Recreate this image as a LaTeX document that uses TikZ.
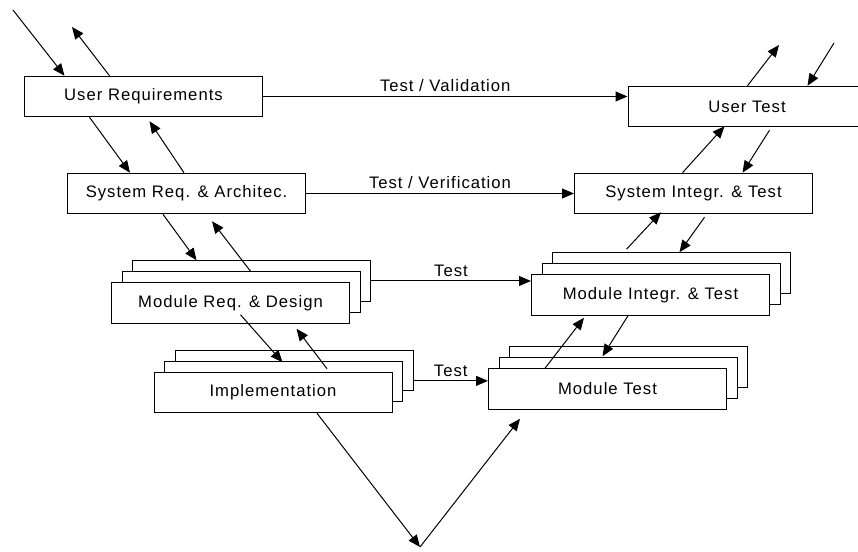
\documentclass[tikz,border=0pt]{standalone}
\usepackage{fontspec}
\setmainfont{Liberation Sans}[LetterSpace=6]
\usetikzlibrary{arrows.meta,calc}

\tikzset{every picture/.style={line width=0.75pt}}
\tikzset{
  phase/.style={draw, fill=white, minimum width=178.5pt, minimum height=30.4pt, inner sep=0pt, font=\fontsize{12.5}{15}\selectfont},
  flow/.style={-{Triangle[length=9pt,width=7.5pt]}},
  lbl/.style={font=\fontsize{12.5}{15}\selectfont, inner sep=3pt}
}

\begin{document}
\begin{tikzpicture}[x=0.75pt,y=0.75pt,yscale=-1,xscale=1]
\useasboundingbox (0,0) rectangle (858,552);
\clip (0,0) rectangle (858,552);

% left side of the V
\node[phase] (ur) at (143.5,96.5) {User Requirements};
\node[phase] (sr) at (186.5,193.5) {System Req. \& Architec.};
\node[phase] (mr3) at (251.5,281) {};
\node[phase] (mr2) at (241,292) {};
\node[phase] (mr) at (230.5,303) {Module Req. \& Design};
\node[phase] (impl3) at (294,370.5) {};
\node[phase] (impl2) at (283.5,381.5) {};
\node[phase] (impl) at (273,392.5) {Implementation};

% right side of the V
\node[phase] (ut) at (747,106.5) {User Test};
\node[phase] (sit) at (693.5,193.5) {System Integr. \& Test};
\node[phase] (mit3) at (671.5,273) {};
\node[phase] (mit2) at (661,284) {};
\node[phase] (mit) at (650.5,295) {Module Integr. \& Test};
\node[phase] (mt3) at (628.5,367) {};
\node[phase] (mt2) at (618,378) {};
\node[phase] (mt) at (607.5,389) {Module Test};

% free ends
\coordinate (inur) at (13,10);
\coordinate (outur) at (72,27);
\coordinate (inut) at (834,43);
\coordinate (outut) at (779,45);
\coordinate (vtip) at (420,547);

% test links
\draw[flow] (ur.east) -- (ur.east -| ut.west) node[midway, above, lbl] {Test / Validation};
\draw[flow] (sr.east) -- (sit.west) node[midway, above, lbl] {Test / Verification};
\draw[flow] (mr3.east) -- (mr3.east -| mit.west) node[midway, above, lbl] {Test};
\coordinate (implt) at ($(impl3.south east)!0.25!(impl3.north east)$);
\draw[flow] (implt) -- (implt -| mt.west) node[midway, above, lbl] {Test};

% going down
\draw[flow] (inur) -- ($(ur.north west)+(40.5,0)$);
\draw[flow] ($(ur.north west)+(85.5,0)$) -- (outur);
\draw[flow] ($(ur.south west)+(65.5,0)$) -- ($(sr.north west)+(63,0)$);
\draw[flow] ($(sr.north west)+(117,0)$) -- ($(ur.south west)+(125.5,4)$);
\draw[flow] ($(sr.south west)+(96,0)$) -- ($(mr3.north west)+(64.5,0)$);
\draw[flow] ($(mr2.north west)+(129,0)$) -- ($(sr.south west)+(145,7)$);
\draw[flow] ($(mr.south west)+(129.5,-9)$) -- ($(impl2.north west)+(118.5,1.5)$);
\draw[flow] ($(impl.north west)+(173.5,-3)$) -- ($(mr.south west)+(185.5,5)$);
\draw[flow] ($(impl.south west)+(163.5,0)$) -- (vtip);

% going up
\draw[flow] (vtip) -- ($(mt.south west)+(32,9)$);
\draw[flow] ($(mt.north west)+(57,0)$) -- ($(mit.south west)+(53,2)$);
\draw[flow] ($(mit.south west)+(97,0)$) -- ($(mt2.north west)+(104,-1)$);
\draw[flow] ($(mit3.north west)+(74.5,-3)$) -- ($(sit.south west)+(87,-2)$);
\draw[flow] ($(sit.south west)+(130.5,3)$) -- ($(mit3.north west)+(127.5,0)$);
\draw[flow] ($(sit.north west)+(108.5,0)$) -- ($(ut.south west)+(97,-1)$);
\draw[flow] ($(ut.south west)+(142,3)$) -- ($(sit.north west)+(168.5,0)$);
\draw[flow] ($(ut.north west)+(120,0)$) -- (outut);
\draw[flow] (inut) -- ($(ut.north west)+(180,0)$);

\end{tikzpicture}
\end{document}
